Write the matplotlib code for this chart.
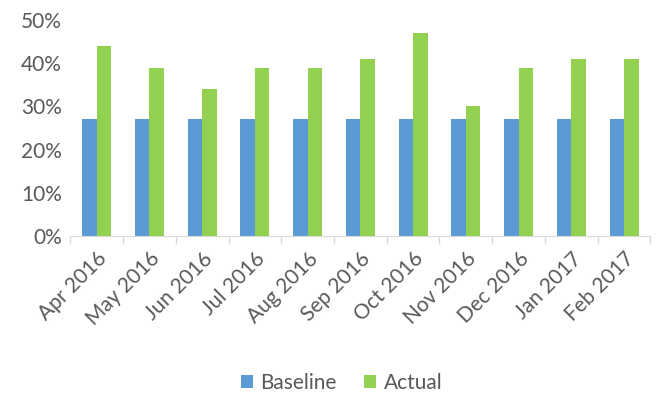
import numpy as np
import matplotlib
matplotlib.use("Agg")
import matplotlib.pyplot as plt
from matplotlib.ticker import PercentFormatter, FixedLocator

months = ["Apr 2016", "May 2016", "Jun 2016", "Jul 2016", "Aug 2016", "Sep 2016",
          "Oct 2016", "Nov 2016", "Dec 2016", "Jan 2017", "Feb 2017"]
baseline = [27, 27, 27, 27, 27, 27, 27, 27, 27, 27, 27]
actual = [44, 39, 34, 39, 39, 41, 47, 30, 39, 41, 41]

plt.rcParams['font.family'] = ['Lato', 'DejaVu Sans']
grey = "#595959"

fig = plt.figure(figsize=(6.57, 3.94), dpi=100)
ax = fig.add_axes([0.107, 0.401, 0.883, 0.548])

x = np.arange(len(months))
w = 0.275
ax.bar(x - w / 2, baseline, width=w, color="#5B9BD5", label="Baseline")
ax.bar(x + w / 2, actual, width=w, color="#92D050", label="Actual")

ax.set_xlim(-0.5, len(months) - 0.5)
ax.set_ylim(0, 50)
ax.set_yticks(range(0, 51, 10))
ax.yaxis.set_major_formatter(PercentFormatter(decimals=0))

ax.set_xticks(x)
ax.set_xticklabels(months, rotation=45, ha="right", rotation_mode="anchor")
ax.xaxis.set_minor_locator(FixedLocator(np.arange(-0.5, len(months), 1)))
ax.tick_params(axis="x", which="major", length=0, pad=9, labelsize=15, labelcolor=grey)
ax.tick_params(axis="x", which="minor", length=6, color="#D9D9D9", width=1)
ax.tick_params(axis="y", length=0, labelsize=15, labelcolor=grey, pad=6)

for s in ["top", "right", "left"]:
    ax.spines[s].set_visible(False)
ax.spines["bottom"].set_color("#D9D9D9")

fig.legend(loc="lower center", bbox_to_anchor=(0.52, -0.045), ncol=2, frameon=False,
           fontsize=15, labelcolor=grey, handlelength=0.6, handleheight=0.6,
           handletextpad=0.35, columnspacing=1.3)

fig.savefig("out.png", dpi=100)
